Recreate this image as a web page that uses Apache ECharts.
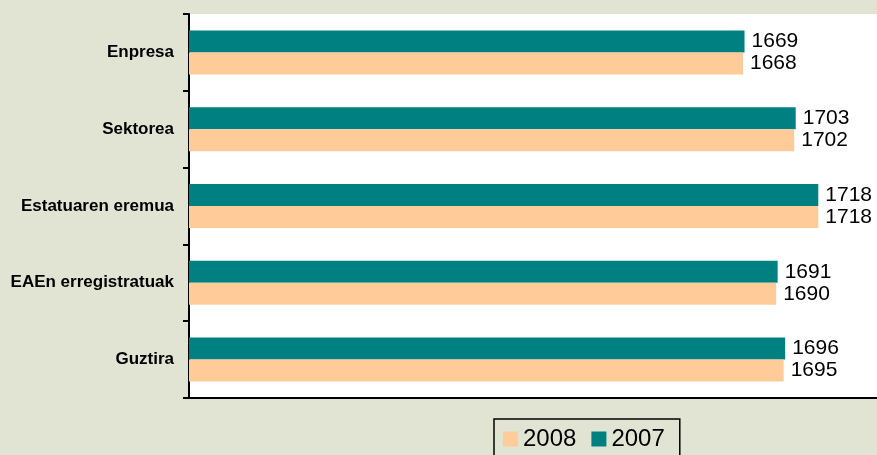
<!DOCTYPE html>
<html>
<head>
<meta charset="utf-8">
<script src="https://cdn.jsdelivr.net/npm/echarts@6/dist/echarts.min.js"></script>
<style>
  html, body { margin: 0; padding: 0; background: #e1e3d3; }
  #chart { width: 877px; height: 455px; }
</style>
</head>
<body>
<div id="chart"></div>
<script>
  // categories, top to bottom
  const categories = ['Enpresa', 'Sektorea', 'Estatuaren eremua', 'EAEn erregistratuak', 'Guztira'];
  const values2007 = [1669, 1703, 1718, 1691, 1696];
  const values2008 = [1668, 1702, 1718, 1690, 1695];

  const font = 'Arial, "Liberation Sans", sans-serif';
  const chart = echarts.init(document.getElementById('chart'));

  const valueLabel = {
    show: true,
    position: 'right',
    distance: 7,
    color: '#000',
    fontSize: 21,
    fontFamily: font
  };

  const option = {
    backgroundColor: '#e1e3d3',
    animation: false,
    grid: {
      left: 189,
      top: 14,
      right: 0,
      height: 384,
      show: true,
      backgroundColor: '#fff',
      borderWidth: 0
    },
    xAxis: {
      type: 'value',
      // the original plot runs past the right edge of the picture
      min: 1300,
      max: 1757,
      axisLine: { show: true, lineStyle: { color: '#000', width: 2 } },
      axisTick: { show: false },
      axisLabel: { show: false },
      splitLine: { show: false }
    },
    yAxis: {
      type: 'category',
      inverse: true,
      data: categories,
      axisLine: { show: true, lineStyle: { color: '#000', width: 2 } },
      axisTick: { show: true, length: 6, lineStyle: { color: '#000', width: 2 } },
      axisLabel: {
        margin: 15,
        color: '#000',
        fontSize: 17,
        fontWeight: 'bold',
        fontFamily: font
      },
      splitLine: { show: false }
    },
    legend: {
      data: ['2008', '2007'],
      left: 494,
      top: 419,
      orient: 'horizontal',
      icon: 'rect',
      itemWidth: 15,
      itemHeight: 15,
      itemGap: 15,
      padding: [8, 15, 8, 9],
      borderColor: '#000',
      borderWidth: 1.5,
      backgroundColor: '#e1e3d3',
      textStyle: { color: '#000', fontSize: 24, fontFamily: font }
    },
    series: [
      {
        name: '2007',
        type: 'bar',
        data: values2007,
        barWidth: 22,
        barGap: '0%',
        itemStyle: { color: '#008080' },
        label: valueLabel
      },
      {
        name: '2008',
        type: 'bar',
        data: values2008,
        barWidth: 22,
        barGap: '0%',
        itemStyle: { color: '#ffcc99' },
        label: valueLabel
      }
    ]
  };

  chart.setOption(option);
</script>
</body>
</html>
